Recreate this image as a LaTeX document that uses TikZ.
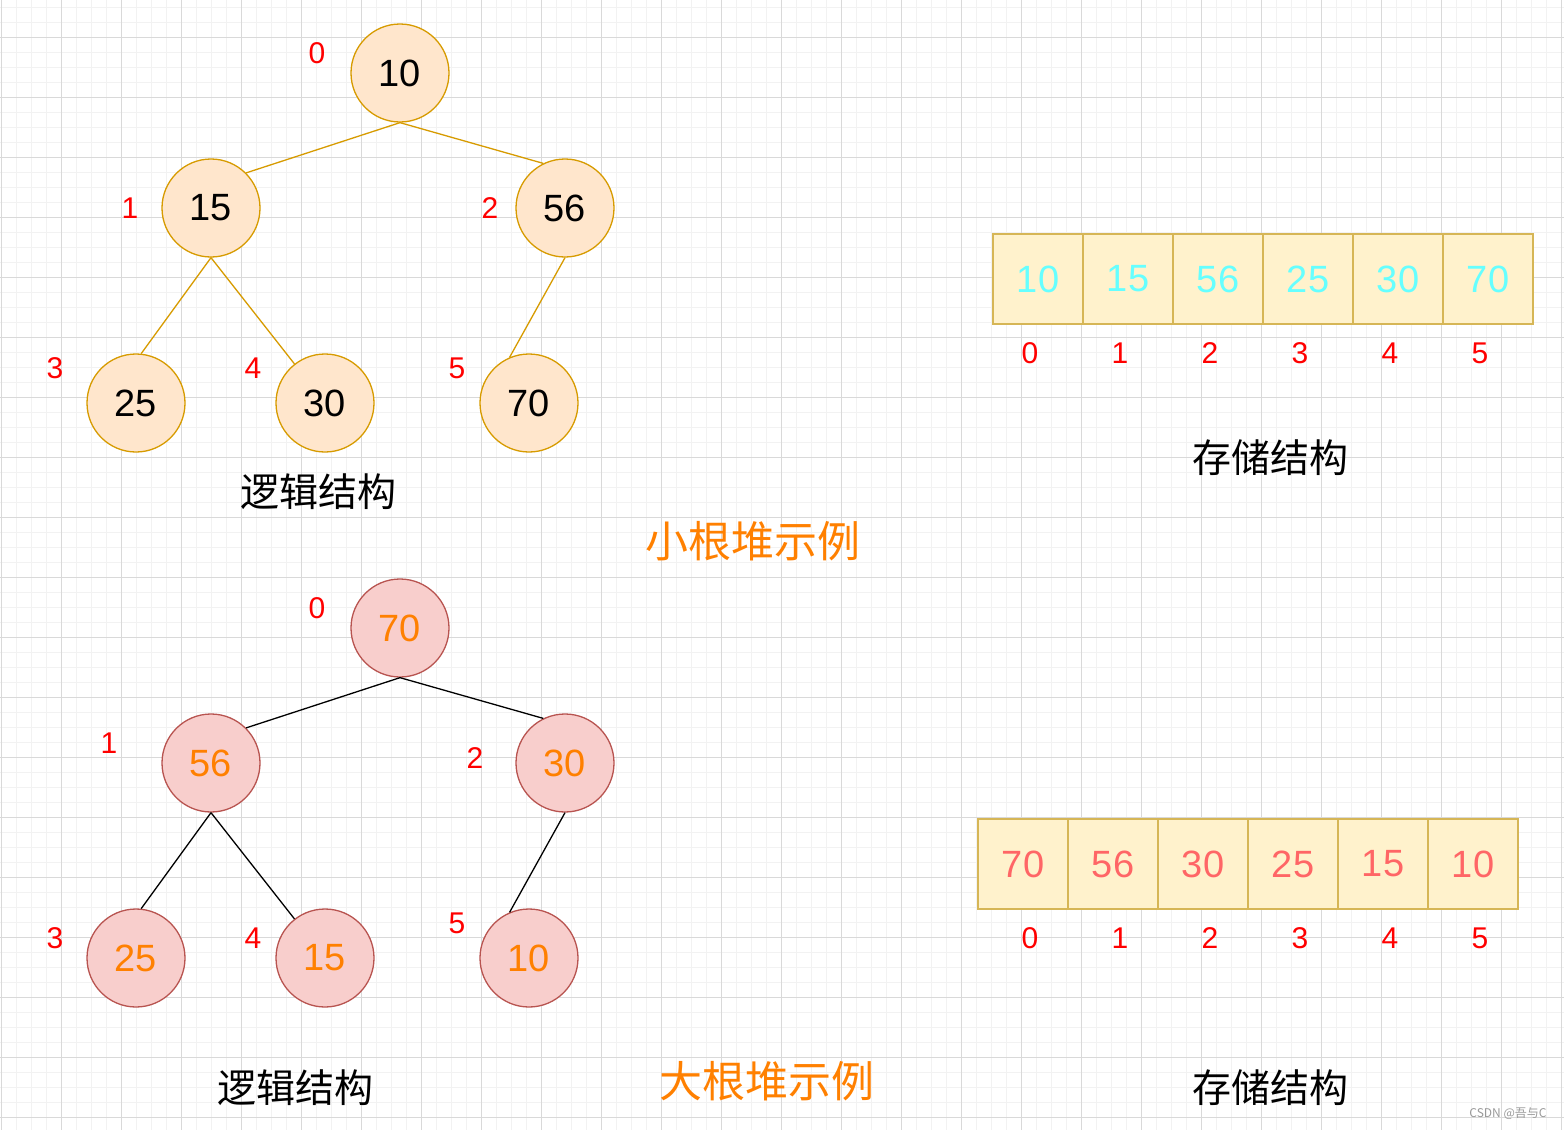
\documentclass[tikz,border=0pt]{standalone}
\usepackage{fontspec}
\setmainfont{Liberation Sans}
\newfontfamily\cjk{Noto Sans CJK SC}
\definecolor{gmajor}{HTML}{D9D9D9}
\definecolor{gminor}{HTML}{F2F2F2}
\definecolor{tfill}{HTML}{FFE6CC}
\definecolor{tdraw}{HTML}{D79B00}
\definecolor{bfill}{HTML}{F8CECC}
\definecolor{bdraw}{HTML}{B85450}
\definecolor{afill}{HTML}{FFF2CC}
\definecolor{adraw}{HTML}{D6B656}
\definecolor{cyanv}{HTML}{66FFFF}
\definecolor{redv}{HTML}{FF6666}
\definecolor{orangev}{HTML}{FF8000}
\definecolor{idxred}{HTML}{FF0000}
\begin{document}
\begin{tikzpicture}[x=1pt,y=-1pt,
  minorline/.style={gminor,line width=1pt},
  majorline/.style={gmajor,line width=1pt},
  tnode/.style={circle,draw=tdraw,fill=tfill,line width=1.3pt,minimum size=98pt,inner sep=0pt,font=\fontsize{38}{40}\selectfont,text=black},
  bnode/.style={circle,draw=bdraw,fill=bfill,line width=1.3pt,minimum size=98pt,inner sep=0pt,font=\fontsize{38}{40}\selectfont,text=orangev},
  tedge/.style={draw=tdraw,line width=1.3pt},
  bedge/.style={draw=black,line width=1.3pt},
  idx/.style={text=idxred,font=\fontsize{30}{32}\selectfont,inner sep=0pt},
  cellbox/.style={draw=adraw,fill=afill,line width=1.5pt,minimum width=90pt,minimum height=90pt,inner sep=0pt,font=\fontsize{38}{40}\selectfont},
  cjklabel/.style={font=\cjk\fontsize{39}{41}\selectfont,inner sep=0pt},
  titlelabel/.style={font=\cjk\fontsize{43}{45}\selectfont,text=orangev,inner sep=0pt}
]
\useasboundingbox (0,0) rectangle (1564,1130);
\fill[white] (0,0) rectangle (1564,1130);
% grid
\foreach \i in {0,...,104} \draw[minorline] ({1+15*\i},0) -- (1+15*\i,1130);
\foreach \j in {-2,...,75} \draw[minorline] (0,{37+15*\j}) -- (1564,37+15*\j);
\foreach \i in {0,...,26} \draw[majorline] ({1+60*\i},0) -- (1+60*\i,1130);
\foreach \j in {-1,...,18} \draw[majorline] (0,{37+60*\j}) -- (1564,37+60*\j);

% ---------- top tree (min heap) ----------
\node[tnode] (t0) at (400,73) {10};
\node[tnode] (t1) at (211,208) {15};
\node[tnode] (t2) at (565,208) {56};
\node[tnode] (t3) at (136,403) {25};
\node[tnode] (t4) at (325,403) {30};
\node[tnode] (t5) at (529,403) {70};
\draw[tedge] (t0.south) -- (t1.45);
\draw[tedge] (t0.south) -- (t2.116);
\draw[tedge] (t1.south) -- (t3.84);
\draw[tedge] (t1.south) -- (t4.128);
\draw[tedge] (t2.south) -- (t5.113);
\node[idx] (ti0) at (317,53) {0};
\node[idx] (ti1) at (130,208) {1};
\node[idx] (ti2) at (490,208) {2};
\node[idx] (ti3) at (55,368) {3};
\node[idx] (ti4) at (253,368) {4};
\node[idx] (ti5) at (457,368) {5};
\node[cjklabel] (tlog) at (318,492) {逻辑结构};

% top array
\foreach \v [count=\k from 0] in {10,15,56,25,30,70} {
  \node[cellbox,text=cyanv] (ta\k) at ({1038+90*\k},279) {\v};
  \node[idx] (tai\k) at ({1030+90*\k},353) {\k};
}
\node[cjklabel] (tstore) at (1270,458) {存储结构};
\node[titlelabel] (ttitle) at (753,541) {小根堆示例};

% ---------- bottom tree (max heap) ----------
\node[bnode] (b0) at (400,628) {70};
\node[bnode] (b1) at (211,763) {56};
\node[bnode] (b2) at (565,763) {30};
\node[bnode] (b3) at (136,958) {25};
\node[bnode] (b4) at (325,958) {15};
\node[bnode] (b5) at (529,958) {10};
\draw[bedge] (b0.south) -- (b1.45);
\draw[bedge] (b0.south) -- (b2.116);
\draw[bedge] (b1.south) -- (b3.84);
\draw[bedge] (b1.south) -- (b4.128);
\draw[bedge] (b2.south) -- (b5.113);
\node[idx] (bi0) at (317,608) {0};
\node[idx] (bi1) at (109,743) {1};
\node[idx] (bi2) at (475,758) {2};
\node[idx] (bi3) at (55,938) {3};
\node[idx] (bi4) at (253,938) {4};
\node[idx] (bi5) at (457,923) {5};
\node[cjklabel] (blog) at (295,1088) {逻辑结构};

% bottom array
\foreach \v [count=\k from 0] in {70,56,30,25,15,10} {
  \node[cellbox,text=redv] (ba\k) at ({1023+90*\k},864) {\v};
  \node[idx] (bai\k) at ({1030+90*\k},938) {\k};
}
\node[cjklabel] (bstore) at (1270,1088) {存储结构};
\node[titlelabel] (btitle) at (767,1081) {大根堆示例};

% watermark
\node[font=\cjk\fontsize{12}{13}\selectfont,text=gray!80,inner sep=0pt] (wm) at (1508,1114) {CSDN @吾与C};
\end{tikzpicture}
\end{document}
